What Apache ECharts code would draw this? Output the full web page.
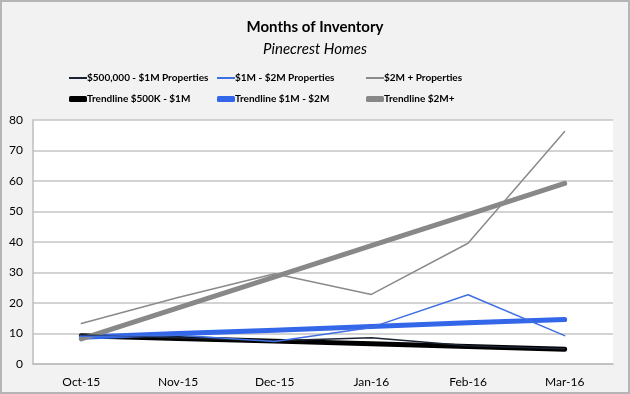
<!DOCTYPE html>
<html><head><meta charset="utf-8">
<script src="https://cdn.jsdelivr.net/npm/echarts@6/dist/echarts.min.js"></script>
<style>html,body{margin:0;padding:0;background:#f2f2f2}#c{width:630px;height:394px}</style>
</head><body><div id="c"></div>
<script>
const categories = ['Oct-15','Nov-15','Dec-15','Jan-16','Feb-16','Mar-16'];
const yTicks = [0,10,20,30,40,50,60,70,80];
const s500k = [9.5, 8.6, 7.6, 8.6, 6.0, 5.0];
const s1m2m = [9.0, 9.4, 7.4, 12.0, 22.7, 9.3];
const s2m = [13.3, 21.8, 29.6, 22.8, 39.6, 76.2];
const t500k = [9.3, 8.4, 7.5, 6.6, 5.7, 4.8];
const t1m2m = [8.8, 10.0, 11.1, 12.3, 13.5, 14.6];
const t2m = [8.2, 18.4, 28.6, 38.8, 49.0, 59.2];
const names = ['$500,000 - $1M Properties','$1M - $2M Properties','$2M + Properties','Trendline $500K - $1M','Trendline $1M - $2M','Trendline $2M+'];
const colors = ['#1c2433','#3f6fe0','#8a8a8a','#000000','#3366e8','#888888'];
const widths = [1.5,1.5,1.5,5,5,5];
const datas = [s500k,s1m2m,s2m,t500k,t1m2m,t2m];
const legPos = [[64,68],[212,68],[361,68],[64,89],[212,89],[361,89]];
const font = 'Lato,"Open Sans",sans-serif';
const chart = echarts.init(document.getElementById('c'));
chart.setOption({
  backgroundColor:'#f2f2f2',
  animation:false,
  title:[{text:'Months of Inventory',left:'center',top:15,textStyle:{fontFamily:font,fontSize:15,fontWeight:'bold',color:'#000'}},
         {text:'Pinecrest Homes',left:'center',top:37,textStyle:{fontFamily:font,fontSize:15,fontStyle:'italic',fontWeight:'normal',color:'#000'}}],
  legend: names.map((n,i)=>({data:[n],left:legPos[i][0],top:legPos[i][1],itemWidth:18,itemHeight:i<3?2:6,itemGap:0,
    icon:i<3?'rect':'roundRect',textStyle:{fontFamily:font,fontWeight:'bold',fontSize:10,color:'#000',padding:[0,0,0,-5]}})),
  graphic:[{type:'rect',shape:{x:1,y:1,width:628,height:392},style:{fill:'none',stroke:'#b5b5b5',lineWidth:2},silent:true}],
  grid:{left:33,right:17,top:120,bottom:30,show:true,backgroundColor:'#fff',borderWidth:0},
  xAxis:{type:'category',data:categories,boundaryGap:true,
    axisLine:{lineStyle:{color:'#bdbdbd',width:1.5}},axisTick:{show:false},
    axisLabel:{fontFamily:font,fontSize:12,color:'#000',margin:12}},
  yAxis:{type:'value',min:0,max:80,interval:10,
    axisLine:{show:true,lineStyle:{color:'#bdbdbd',width:1.5}},axisTick:{show:false},
    splitLine:{lineStyle:{color:'#c4c4c4',width:1.5}},
    axisLabel:{fontFamily:font,fontSize:12,color:'#000',margin:10,
      formatter:v=>yTicks.includes(v)?String(v):''}},
  series: names.map((n,i)=>({name:n,type:'line',data:datas[i],symbol:'none',
    lineStyle:{color:colors[i],width:widths[i],cap:'round',join:'round'},itemStyle:{color:colors[i]},z:i<3?3:2}))
});
</script></body></html>
